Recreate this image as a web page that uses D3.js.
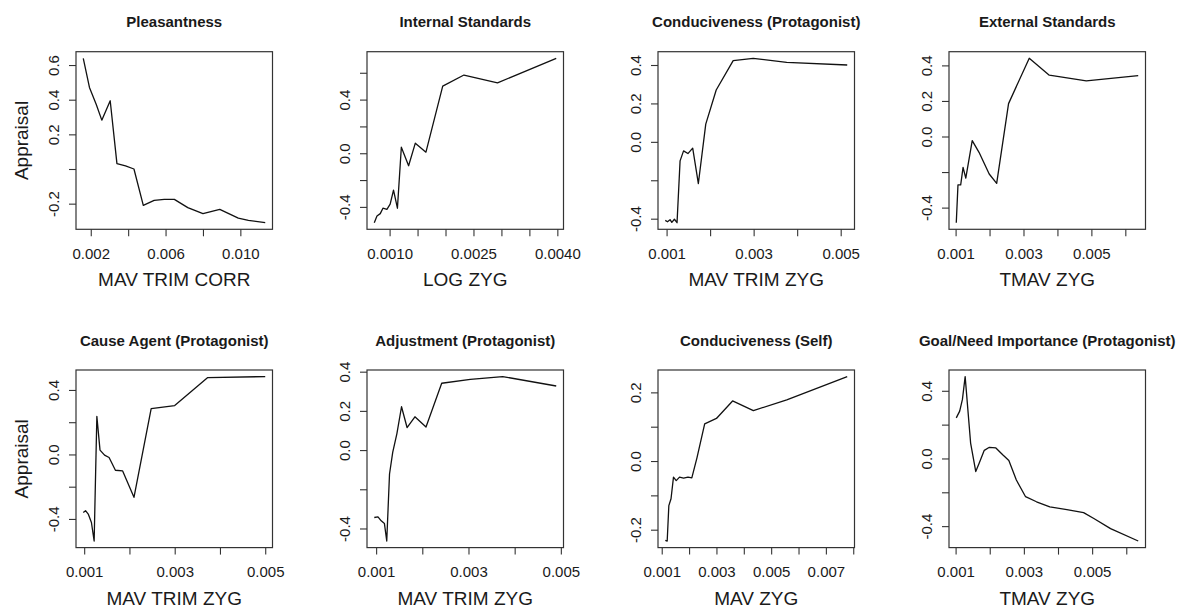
<html>
    <head>
        <script src="https://d3js.org/d3.v7.min.js"></script>
        <style>
            body{ margin:0; background:#fff; }
            svg text{ font-family:"Liberation Sans", Arial, Helvetica, sans-serif; fill:#1a1a1a; }
        </style>
    </head>
    <body>
        <svg id="svg" width="1185" height="609"></svg>
        <script>
            // panel titles and x axis names, row by row
            var titles = ["Pleasantness", "Internal Standards", "Conduciveness (Protagonist)", "External Standards",
                          "Cause Agent (Protagonist)", "Adjustment (Protagonist)", "Conduciveness (Self)", "Goal/Need Importance (Protagonist)"];
            var xTitles = ["MAV TRIM CORR", "LOG ZYG", "MAV TRIM ZYG", "TMAV ZYG",
                           "MAV TRIM ZYG", "MAV TRIM ZYG", "MAV ZYG", "TMAV ZYG"];

            // curves
            var pleasX = [0.0016, 0.00193, 0.00229, 0.00259, 0.00304, 0.0034, 0.00386, 0.00431, 0.00481, 0.00539, 0.00593, 0.00647, 0.00719, 0.008, 0.0089, 0.00989, 0.01043, 0.01133];
            var pleasY = [0.639, 0.471, 0.374, 0.282, 0.394, 0.031, 0.018, 0.0, -0.21, -0.181, -0.175, -0.175, -0.223, -0.258, -0.233, -0.283, -0.296, -0.31];

            var intX = [0.000726, 0.000774, 0.000833, 0.000881, 0.000952, 0.00101, 0.00107, 0.00114, 0.00121, 0.00134, 0.00146, 0.00165, 0.00195, 0.00233, 0.00293, 0.00398];
            var intY = [-0.518, -0.468, -0.45, -0.41, -0.418, -0.38, -0.275, -0.41, 0.045, -0.093, 0.075, 0.008, 0.5, 0.583, 0.525, 0.708];

            var condPX = [0.00097, 0.00102, 0.00108, 0.00112, 0.00118, 0.00124, 0.00131, 0.00139, 0.00149, 0.0016, 0.00173, 0.0019, 0.00214, 0.00253, 0.00299, 0.00376, 0.00515];
            var condPY = [-0.409, -0.416, -0.405, -0.419, -0.403, -0.421, -0.099, -0.047, -0.061, -0.033, -0.217, 0.092, 0.27, 0.423, 0.435, 0.414, 0.4];

            var extX = [0.00102, 0.00107, 0.00115, 0.00122, 0.0013, 0.00149, 0.00169, 0.00199, 0.00221, 0.00256, 0.00317, 0.00376, 0.00485, 0.00638];
            var extY = [-0.485, -0.272, -0.272, -0.174, -0.234, -0.023, -0.089, -0.211, -0.264, 0.185, 0.44, 0.345, 0.313, 0.343];

            var causeX = [0.00098, 0.00103, 0.00109, 0.00116, 0.00122, 0.00128, 0.00135, 0.00145, 0.00155, 0.00169, 0.00185, 0.0021, 0.00248, 0.003, 0.00373, 0.005];
            var causeY = [-0.36, -0.349, -0.37, -0.422, -0.537, 0.236, 0.027, -0.004, -0.019, -0.098, -0.102, -0.266, 0.284, 0.303, 0.477, 0.483];

            var adjX = [0.00096, 0.00104, 0.00111, 0.00118, 0.00123, 0.00129, 0.00136, 0.00145, 0.00155, 0.00167, 0.00184, 0.00208, 0.00242, 0.00304, 0.00374, 0.0049];
            var adjY = [-0.344, -0.341, -0.361, -0.375, -0.464, -0.122, -0.01, 0.084, 0.221, 0.115, 0.17, 0.118, 0.341, 0.361, 0.375, 0.327];

            var condSX = [0.00113, 0.0012, 0.00126, 0.00134, 0.00143, 0.00153, 0.00165, 0.0018, 0.00196, 0.0021, 0.00229, 0.00257, 0.003, 0.00359, 0.00435, 0.00557, 0.00778];
            var condSY = [-0.231, -0.233, -0.13, -0.11, -0.047, -0.057, -0.047, -0.05, -0.047, -0.049, 0.01, 0.108, 0.124, 0.175, 0.147, 0.178, 0.246];

            var goalX = [0.00102, 0.00112, 0.0012, 0.00128, 0.00144, 0.00159, 0.00169, 0.00184, 0.00199, 0.00218, 0.00238, 0.00256, 0.00278, 0.00305, 0.00337, 0.00376, 0.00426, 0.00475, 0.00505, 0.00554, 0.00635];
            var goalY = [0.24, 0.28, 0.349, 0.484, 0.091, -0.077, -0.028, 0.048, 0.066, 0.062, 0.022, -0.012, -0.127, -0.226, -0.256, -0.286, -0.302, -0.32, -0.355, -0.415, -0.488];

            var xSeries = [pleasX, intX, condPX, extX, causeX, adjX, condSX, goalX];
            var ySeries = [pleasY, intY, condPY, extY, causeY, adjY, condSY, goalY];

            // ticks; an empty label means the tick is drawn without text
            var xTicks = [
                [0.002, 0.004, 0.006, 0.008, 0.010],
                [0.0010, 0.0015, 0.0020, 0.0025, 0.0030, 0.0035, 0.0040],
                [0.001, 0.002, 0.003, 0.004, 0.005],
                [0.001, 0.002, 0.003, 0.004, 0.005, 0.006],
                [0.001, 0.002, 0.003, 0.004, 0.005],
                [0.001, 0.002, 0.003, 0.004, 0.005],
                [0.001, 0.002, 0.003, 0.004, 0.005, 0.006, 0.007, 0.008],
                [0.001, 0.002, 0.003, 0.004, 0.005, 0.006]
            ];
            var xTickLabels = [
                ["0.002", "", "0.006", "", "0.010"],
                ["0.0010", "", "", "0.0025", "", "", "0.0040"],
                ["0.001", "", "0.003", "", "0.005"],
                ["0.001", "", "0.003", "", "0.005", ""],
                ["0.001", "", "0.003", "", "0.005"],
                ["0.001", "", "0.003", "", "0.005"],
                ["0.001", "", "0.003", "", "0.005", "", "0.007", ""],
                ["0.001", "", "0.003", "", "0.005", ""]
            ];
            var yTicks = [
                [-0.2, 0.0, 0.2, 0.4, 0.6],
                [-0.4, -0.2, 0.0, 0.2, 0.4, 0.6],
                [-0.4, -0.2, 0.0, 0.2, 0.4],
                [-0.4, -0.2, 0.0, 0.2, 0.4],
                [-0.4, -0.2, 0.0, 0.2, 0.4],
                [-0.4, -0.2, 0.0, 0.2, 0.4],
                [-0.2, -0.1, 0.0, 0.1, 0.2],
                [-0.4, -0.2, 0.0, 0.2, 0.4]
            ];
            var yTickLabels = [
                ["-0.2", "", "0.2", "0.4", "0.6"],
                ["-0.4", "", "0.0", "", "0.4", ""],
                ["-0.4", "", "0.0", "0.2", "0.4"],
                ["-0.4", "", "0.0", "0.2", "0.4"],
                ["-0.4", "", "0.0", "", "0.4"],
                ["-0.4", "", "0.0", "0.2", "0.4"],
                ["-0.2", "", "0.0", "", "0.2"],
                ["-0.4", "", "0.0", "", "0.4"]
            ];
            var yTitle = "Appraisal";

            var layout = {left:76, top:51.7, width:196.5, height:177.6, colStep:291, rowStep:318.3};
            var svg = d3.select("svg");

            // R style: data range widened by 4% on each side
            function padded(vals){
                var ext = d3.extent(vals);
                var r = ext[1] - ext[0];
                return [ext[0] - 0.04 * r, ext[1] + 0.04 * r];
            }

            for(var p = 0; p < titles.length; p++){
                var col = p % 4, row = Math.floor(p / 4);
                var x0 = layout.left + col * layout.colStep;
                var y0 = layout.top + row * layout.rowStep;
                var w = layout.width, h = layout.height;
                var g = svg.append("g").attr("transform", "translate(" + x0 + "," + y0 + ")");

                var xs = xSeries[p], ys = ySeries[p];
                var x = d3.scaleLinear().domain(padded(xs)).range([0, w]);
                var y = d3.scaleLinear().domain(padded(ys)).range([h, 0]);

                var labX = xTickLabels[p], labY = yTickLabels[p];

                var xAxis = g.append("g").attr("transform", "translate(0," + h + ")")
                    .call(d3.axisBottom(x).tickValues(xTicks[p]).tickSizeOuter(0).tickSize(7)
                        .tickFormat(function(d, i){ return labX[i]; }));
                xAxis.select(".domain").remove();
                xAxis.selectAll("line").attr("stroke", "#333").attr("stroke-width", 1.1);
                xAxis.selectAll("text").attr("y", 0).attr("dy", 29.5).attr("font-size", 15)
                    .attr("fill", "#1a1a1a").attr("font-family", null);

                var yAxis = g.append("g")
                    .call(d3.axisLeft(y).tickValues(yTicks[p]).tickSizeOuter(0).tickSize(7)
                        .tickFormat(function(d, i){ return labY[i]; }));
                yAxis.select(".domain").remove();
                yAxis.selectAll("line").attr("stroke", "#333").attr("stroke-width", 1.1);
                yAxis.selectAll("text")
                    .attr("x", 0).attr("dy", 0)
                    .attr("transform", "translate(-17.5,0) rotate(-90)")
                    .attr("text-anchor", "middle")
                    .attr("font-size", 15)
                    .attr("fill", "#1a1a1a").attr("font-family", null);

                g.append("rect").attr("x", 0).attr("y", 0).attr("width", w).attr("height", h)
                    .attr("fill", "none").attr("stroke", "#333").attr("stroke-width", 1.2);

                var line = d3.line().x(function(d){ return x(d[0]); }).y(function(d){ return y(d[1]); });
                g.append("path").datum(d3.zip(xs, ys))
                    .attr("d", line)
                    .attr("fill", "none")
                    .attr("stroke", "#111")
                    .attr("stroke-width", 1.3)
                    .attr("stroke-linejoin", "round");

                g.append("text").attr("x", w / 2).attr("y", -24.5)
                    .attr("text-anchor", "middle")
                    .attr("font-size", 15).attr("font-weight", "bold")
                    .text(titles[p]);

                g.append("text").attr("x", w / 2).attr("y", h + 57)
                    .attr("text-anchor", "middle")
                    .attr("font-size", 19)
                    .text(xTitles[p]);

                if(col == 0){
                    g.append("text")
                        .attr("transform", "translate(-48," + (h / 2) + ") rotate(-90)")
                        .attr("text-anchor", "middle")
                        .attr("font-size", 19)
                        .text(yTitle);
                }
            }
        </script>
    </body>
</html>
